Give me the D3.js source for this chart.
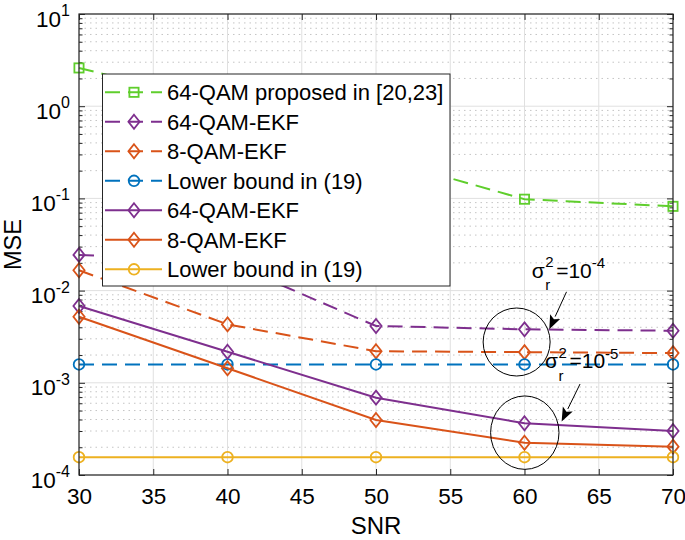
<!DOCTYPE html>
<html>
<head>
<meta charset="utf-8">
<script src="https://cdn.jsdelivr.net/npm/d3@7/dist/d3.min.js"></script>
<style>
  html, body { margin: 0; padding: 0; background: #fff; }
  svg { display: block; font-family: "Liberation Sans", Arial, Helvetica, sans-serif; }
</style>
</head>
<body>
<svg id="chart" width="685" height="540"></svg>
<script>
// ---------------- data ----------------
const snr = [30, 40, 50, 60, 70];
const xTicks = [30, 35, 40, 45, 50, 55, 60, 65, 70];
const yDecades = [-4, -3, -2, -1, 0, 1];

const qam64Proposed  = [2.6, 1.03, 0.28, 0.098, 0.082];
const qam64EkfDash   = [0.0244, 0.0205, 0.00413, 0.0038, 0.00367];
const qam8EkfDash    = [0.0166, 0.0043, 0.0022, 0.00215, 0.0021];
const lowerDash      = [0.00158, 0.00158, 0.00158, 0.00158, 0.00158];
const qam64EkfSolid  = [0.0068, 0.00217, 0.00069, 0.000364, 0.0003];
const qam8EkfSolid   = [0.0052, 0.00144, 0.000395, 0.000224, 0.000203];
const lowerSolid     = [0.000156, 0.000156, 0.000156, 0.000156, 0.000156];

const seriesNames = ["64-QAM proposed in [20,23]", "64-QAM-EKF", "8-QAM-EKF", "Lower bound in (19)",
                     "64-QAM-EKF", "8-QAM-EKF", "Lower bound in (19)"];
const seriesValues = [qam64Proposed, qam64EkfDash, qam8EkfDash, lowerDash, qam64EkfSolid, qam8EkfSolid, lowerSolid];
const seriesColors = ["#5fce2c", "#7e2f8e", "#d95319", "#0072bd", "#7e2f8e", "#d95319", "#edb120"];
const seriesDash   = [true, true, true, true, false, false, false];
const seriesMarker = ["square", "diamond", "diamond", "circle", "diamond", "diamond", "circle"];

// annotations (in data coordinates)
const ellipses = [ {snr: 59.47, mse: 0.00277, rx: 33.5, ry: 34}, {snr: 60.02, mse: 0.000288, rx: 34.2, ry: 36.7} ];
const arrows = [ {from: [62.83, 0.0097], to: [61.67, 0.0038]}, {from: [63.74, 0.00097], to: [62.5, 0.00038]} ];
const labels = [ {snr: 60.48, mse: 0.0137, exp: "-4"}, {snr: 61.38, mse: 0.00144, exp: "-5"} ];

// ---------------- layout ----------------
const L = 79, R = 673, T = 14, B = 475;
const svg = d3.select("#chart");
const x = d3.scaleLinear().domain([30, 70]).range([L, R]);
const y = d3.scaleLog().domain([1e-4, 10]).range([B, T]);
const axisCol = "#262626";

// grid
const gridG = svg.append("g");
const minorVals = [];
yDecades.slice(0, -1).forEach(d => { for (let k = 2; k <= 9; k++) minorVals.push(k * Math.pow(10, d)); });
gridG.selectAll("line.minor").data(minorVals).join("line")
  .attr("x1", L).attr("x2", R).attr("y1", d => y(d)).attr("y2", d => y(d))
  .attr("stroke", "#c4c4c4").attr("stroke-width", 1).attr("stroke-dasharray", "1.5,4");
gridG.selectAll("line.majy").data(yDecades).join("line")
  .attr("x1", L).attr("x2", R).attr("y1", d => y(Math.pow(10, d))).attr("y2", d => y(Math.pow(10, d)))
  .attr("stroke", "#e0e0e0").attr("stroke-width", 1);
gridG.selectAll("line.majx").data(xTicks).join("line")
  .attr("x1", d => x(d)).attr("x2", d => x(d)).attr("y1", T).attr("y2", B)
  .attr("stroke", "#e0e0e0").attr("stroke-width", 1);

// axes (ticks inward)
const fs = 22.5;
const gB = svg.append("g").attr("transform", `translate(0,${B})`)
  .call(d3.axisBottom(x).tickValues(xTicks).tickSizeInner(-6).tickSizeOuter(0).tickPadding(13));
const gT = svg.append("g").attr("transform", `translate(0,${T})`)
  .call(d3.axisTop(x).tickValues(xTicks).tickSizeInner(-6).tickSizeOuter(0).tickFormat(""));
const majorY = yDecades.map(d => Math.pow(10, d));
const gL = svg.append("g").attr("transform", `translate(${L},0)`)
  .call(d3.axisLeft(y).tickValues(majorY).tickSizeInner(-6).tickSizeOuter(0).tickFormat(""));
const gR = svg.append("g").attr("transform", `translate(${R},0)`)
  .call(d3.axisRight(y).tickValues(majorY).tickSizeInner(-6).tickSizeOuter(0).tickFormat(""));
const gLm = svg.append("g").attr("transform", `translate(${L},0)`)
  .call(d3.axisLeft(y).tickValues(minorVals).tickSizeInner(-3.5).tickSizeOuter(0).tickFormat(""));
const gRm = svg.append("g").attr("transform", `translate(${R},0)`)
  .call(d3.axisRight(y).tickValues(minorVals).tickSizeInner(-3.5).tickSizeOuter(0).tickFormat(""));
[gB, gT, gL, gR, gLm, gRm].forEach(g => {
  g.select(".domain").remove();
  g.selectAll("line").attr("stroke", axisCol).attr("stroke-width", 1);
});
gB.selectAll("text").attr("font-size", fs).attr("fill", "#000").attr("font-family", "Liberation Sans, Arial, sans-serif").attr("dy", "0.71em");

// y tick labels 10^n
const yl = svg.append("g");
yDecades.forEach(d => {
  const t = yl.append("text").attr("x", 70).attr("y", y(Math.pow(10, d)) + 12.5)
    .attr("text-anchor", "end").attr("font-size", fs).attr("fill", "#000");
  t.append("tspan").text("10");
  t.append("tspan").attr("font-size", 16).attr("dy", -10.5).text(String(d));
});

// axis labels
svg.append("text").attr("x", (L + R) / 2).attr("y", 534).attr("text-anchor", "middle")
  .attr("font-size", 24).attr("fill", "#000").text("SNR");
svg.append("text").attr("transform", `translate(21,${(T + B) / 2}) rotate(-90)`).attr("text-anchor", "middle")
  .attr("font-size", 23.5).attr("fill", "#000").text("MSE");

// ---------------- series ----------------
function drawMarker(g, type, cx, cy, color) {
  if (type === "square") {
    g.append("rect").attr("x", cx - 4.6).attr("y", cy - 4.6).attr("width", 9.2).attr("height", 9.2)
      .attr("fill", "none").attr("stroke", color).attr("stroke-width", 1.8);
  } else if (type === "diamond") {
    g.append("path").attr("d", `M${cx},${cy - 7}L${cx + 5.6},${cy}L${cx},${cy + 7}L${cx - 5.6},${cy}Z`)
      .attr("fill", "none").attr("stroke", color).attr("stroke-width", 1.8);
  } else {
    g.append("circle").attr("cx", cx).attr("cy", cy).attr("r", 5.3)
      .attr("fill", "none").attr("stroke", color).attr("stroke-width", 1.8);
  }
}
const line = d3.line().x(d => x(d[0])).y(d => y(d[1]));
const plotG = svg.append("g");
seriesValues.forEach((vals, i) => {
  const pts = snr.map((s, j) => [s, vals[j]]);
  const g = plotG.append("g");
  g.append("path").attr("d", line(pts)).attr("fill", "none").attr("stroke", seriesColors[i])
    .attr("stroke-width", 2).attr("stroke-dasharray", seriesDash[i] ? "15,8" : null);
  pts.forEach(p => drawMarker(g, seriesMarker[i], x(p[0]), y(p[1]), seriesColors[i]));
});

// axes box
svg.append("rect").attr("x", L).attr("y", T).attr("width", R - L).attr("height", B - T)
  .attr("fill", "none").attr("stroke", axisCol).attr("stroke-width", 1.2);

// ---------------- legend ----------------
const lg = svg.append("g");
lg.append("rect").attr("x", 102.5).attr("y", 74).attr("width", 347.5).attr("height", 212)
  .attr("fill", "#fff").attr("stroke", axisCol).attr("stroke-width", 1);
seriesNames.forEach((name, i) => {
  const cy = 92.3 + i * 29.5;
  lg.append("line").attr("x1", 105).attr("x2", 162).attr("y1", cy).attr("y2", cy)
    .attr("stroke", seriesColors[i]).attr("stroke-width", 2)
    .attr("stroke-dasharray", seriesDash[i] ? "15,8" : null);
  drawMarker(lg, seriesMarker[i], 134, cy, seriesColors[i]);
  lg.append("text").attr("x", 167).attr("y", cy + 8).attr("font-size", 22).attr("fill", "#000").text(name);
});

// ---------------- annotations ----------------
const ag = svg.append("g");
ellipses.forEach(e => {
  ag.append("ellipse").attr("cx", x(e.snr)).attr("cy", y(e.mse)).attr("rx", e.rx).attr("ry", e.ry)
    .attr("fill", "none").attr("stroke", "#000").attr("stroke-width", 1);
});
arrows.forEach(a => {
  const x1 = x(a.from[0]), y1 = y(a.from[1]), x2 = x(a.to[0]), y2 = y(a.to[1]);
  const ang = Math.atan2(y2 - y1, x2 - x1);
  const hl = 14, hw = 5.5;
  const bx = x2 - hl * Math.cos(ang), by = y2 - hl * Math.sin(ang);
  ag.append("line").attr("x1", x1).attr("y1", y1).attr("x2", bx).attr("y2", by)
    .attr("stroke", "#000").attr("stroke-width", 1);
  const px = -Math.sin(ang), py = Math.cos(ang);
  ag.append("path").attr("d", `M${x2},${y2}L${bx + hw * px},${by + hw * py}L${bx + 3 * Math.cos(ang)},${by + 3 * Math.sin(ang)}L${bx - hw * px},${by - hw * py}Z`)
    .attr("fill", "#000");
});
labels.forEach(l => {
  const ax = x(l.snr), ay = y(l.mse);
  const t = ag.append("text").attr("x", ax).attr("y", ay).attr("font-size", 21).attr("fill", "#000");
  t.append("tspan").text("σ");
  t.append("tspan").attr("x", ax + 13.5).attr("dy", -10.5).attr("font-size", 15).text("2");
  t.append("tspan").attr("x", ax + 13.5).attr("dy", 23).attr("font-size", 15).text("r");
  t.append("tspan").attr("x", ax + 24.5).attr("dy", -12.5).text("=10");
  t.append("tspan").attr("dy", -9.5).attr("font-size", 15).text(l.exp);
});
</script>
</body>
</html>
